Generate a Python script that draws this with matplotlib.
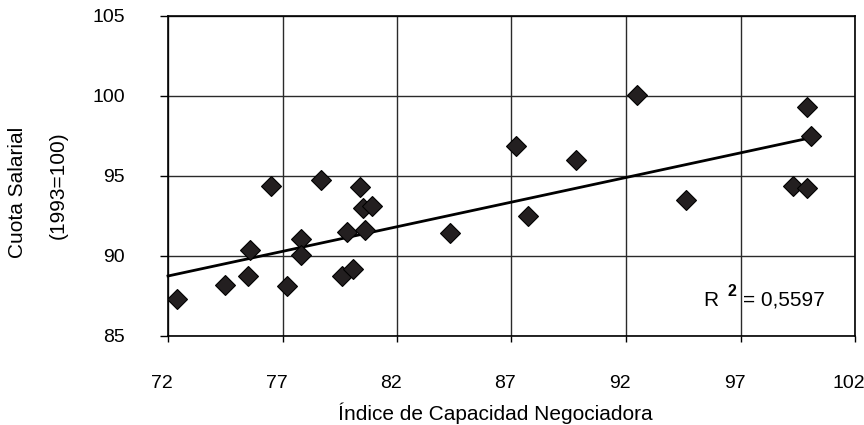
import numpy as np
import matplotlib
matplotlib.use("Agg")
import matplotlib.pyplot as plt
import matplotlib.transforms as mtransforms

plt.rcParams['font.family'] = ['Liberation Sans', 'DejaVu Sans']

# Data (Índice de Capacidad Negociadora, Cuota Salarial)
indice = [72.4, 74.5, 75.5, 75.6, 76.5, 77.2, 77.8, 77.8, 78.7, 79.6, 80.1,
          79.8, 80.4, 80.5, 80.9, 80.6, 84.3, 87.2, 87.7, 89.8, 92.5, 94.6,
          99.3, 99.9, 99.9, 100.1]
cuota = [87.3, 88.2, 88.75, 90.4, 94.4, 88.1, 91.05, 90.05, 94.75, 88.75, 89.2,
         91.5, 94.3, 93.0, 93.1, 91.65, 91.45, 96.9, 92.5, 96.0, 100.05, 93.5,
         94.4, 94.25, 99.3, 97.5]
# linear trend line as shown (x range and fitted values)
trend_x = [72.0, 100.1]
trend_y = [88.75, 97.4]
r2_label = "0,5597"
xticks = [72, 77, 82, 87, 92, 97, 102]
yticks = [85, 90, 95, 100, 105]

fig = plt.figure(figsize=(8.64, 4.25), dpi=100)
ax = fig.add_axes([168/864, 1-336/425, (855-168)/864, (336-16)/425])

ax.set_xlim(72, 102)
ax.set_ylim(85, 105)
ax.set_xticks(xticks)
ax.set_yticks(yticks)
ax.grid(True, color='#2a2a2a', linewidth=1.0)
ax.set_axisbelow(True)
for s in ax.spines.values():
    s.set_color('black')
    s.set_linewidth(1.2)

ax.plot(trend_x, trend_y, color='black', linewidth=2.0, zorder=3,
        clip_on=False)

ax.plot(indice, cuota, linestyle='none', marker='D', markersize=10,
        markerfacecolor='#231f20', markeredgecolor='black', markeredgewidth=0.8,
        zorder=4)

ax.tick_params(axis='both', labelsize=14, colors='black', width=1,
               direction='out')
ax.tick_params(axis='x', pad=24, length=4)
ax.tick_params(axis='y', pad=25, length=6)

offset = mtransforms.ScaledTranslation(-6/100, 0, fig.dpi_scale_trans)
for lab in ax.get_xticklabels():
    lab.set_transform(lab.get_transform() + offset)

fig.text(495/864, 1-420/425, 'Índice de Capacidad Negociadora', fontsize=15,
         ha='center', va='baseline')

fig.text(18/864, 1-192/425, 'Cuota Salarial', rotation=90, fontsize=15,
         ha='center', va='center')
fig.text(58/864, 1-185/425, '(1993=100)', rotation=90, fontsize=15,
         ha='center', va='center')

# R^2 annotation
ax.text(95.36, 87.22, 'R', fontsize=15, ha='left', va='center')
ax.text(96.44, 87.75, '2', fontsize=11.5, fontweight='bold', ha='left', va='center')
ax.text(97.1, 87.22, '= ' + r2_label, fontsize=15, ha='left', va='center')

fig.savefig('out.png', dpi=100)
